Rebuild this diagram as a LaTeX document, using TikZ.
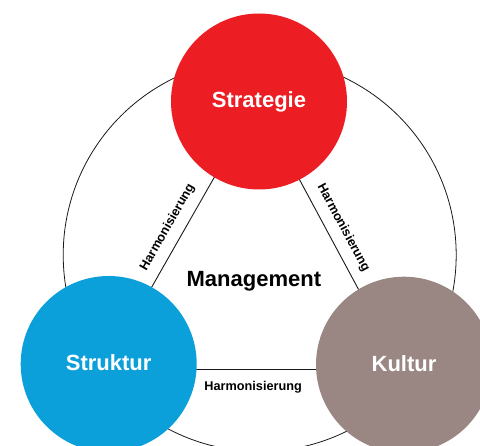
\documentclass[tikz,border=0pt]{standalone}
\usepackage{fontspec}
\setmainfont{Liberation Sans}
\definecolor{strategred}{RGB}{237,29,36}
\definecolor{strukturblue}{RGB}{12,160,218}
\definecolor{kulturtaupe}{RGB}{154,135,131}
\begin{document}
\begin{tikzpicture}[x=1pt,y=-1pt,
  pillar/.style={circle, inner sep=0pt, minimum size=176pt, text=white,
    font=\bfseries\fontsize{22}{24}\selectfont, text height=13pt, text depth=0pt},
  link/.style={line width=0.9pt, draw=black!90},
  harm/.style={font=\bfseries\fontsize{12.7}{14}\selectfont, sloped, anchor=base, inner sep=0pt}]
\clip (0,0) rectangle (480,446);

% outer ring
\node[circle, draw=black!90, line width=0.8pt, minimum size=393pt, inner sep=0pt] (ring) at (259.7,255) {};

% triangle of harmonisation links
\coordinate (vS) at (257.5,101.5);
\coordinate (vL) at (105,369);
\coordinate (vR) at (401.3,369);
\draw[link] (vL) -- node[harm, yshift=12.5pt] {Harmonisierung} (vS);
\draw[link] (vS) -- node[harm, yshift=12.5pt] {Harmonisierung} (vR);
\draw[link] (vL) -- node[harm, yshift=-21.5pt] {Harmonisierung} (vR);

% centre label
\node[anchor=base, font=\bfseries\fontsize{22}{24}\selectfont, inner sep=0pt] (mgmt) at (253.9,287) {Management};

% the three pillars
\node[pillar, fill=strategred] (strat) at (259,101.5) {Strategie};
\node[pillar, fill=strukturblue] (struk) at (108.7,364) {Struktur};
\node[pillar, fill=kulturtaupe] (kult) at (404,364.7) {Kultur};
\end{tikzpicture}
\end{document}
